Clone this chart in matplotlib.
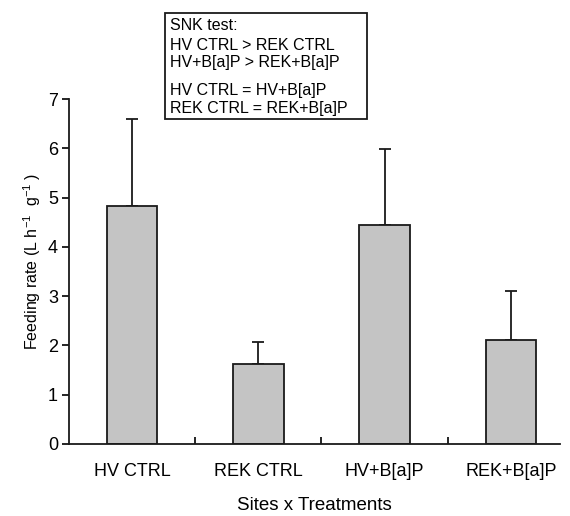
import numpy as np
import matplotlib
matplotlib.use('Agg')
import matplotlib.pyplot as plt

plt.rcParams['font.family'] = ['Liberation Sans', 'DejaVu Sans']
plt.rcParams['mathtext.fontset'] = 'custom'
plt.rcParams['mathtext.rm'] = 'Liberation Sans'

# data
groups = ['HV CTRL', 'REK CTRL', 'HV+B[a]P', 'REK+B[a]P']
means = [4.82, 1.63, 4.44, 2.11]
errs = [1.78, 0.44, 1.54, 0.99]
snk_lines = ['SNK test:', 'HV CTRL > REK CTRL', 'HV+B[a]P > REK+B[a]P',
             'HV CTRL = HV+B[a]P', 'REK CTRL = REK+B[a]P']

fig = plt.figure(figsize=(5.7, 5.16), dpi=100)
ax = fig.add_axes([69 / 570, 1 - 444 / 516, 491 / 570, 345 / 516])

x = np.arange(len(groups))
ax.bar(x, means, width=0.4, color='#c4c4c4', edgecolor='#1a1a1a', linewidth=1.3, zorder=2)
ax.errorbar(x, means, yerr=[np.zeros(len(errs)), errs], fmt='none', ecolor='#1a1a1a',
            elinewidth=1.3, capsize=4.5, capthick=1.3, zorder=1)

ax.set_xlim(-0.5, 3.39)
ax.set_ylim(0, 7)
ax.set_yticks(range(0, 8))
ax.set_xticks(x)
ax.set_xticklabels(groups, fontsize=13)
ax.set_xticks([0.5, 1.5, 2.5], minor=True)
ax.tick_params(axis='x', which='major', length=0, pad=14)
ax.tick_params(axis='x', which='minor', length=5, width=1.2, direction='in')
ax.tick_params(axis='y', labelsize=13, length=5, width=1.2, direction='out', pad=3)
for s in ['top', 'right']:
    ax.spines[s].set_visible(False)
for s in ['left', 'bottom']:
    ax.spines[s].set_linewidth(1.3)
    ax.spines[s].set_color('#1a1a1a')

ax.set_ylabel('Feeding rate (L h$^{\\mathregular{-1}}$  g$^{\\mathregular{-1}}$ )', fontsize=11.5)
ax.yaxis.set_label_coords(-0.052, 0.53)
ax.set_xlabel('Sites x Treatments', fontsize=13.5, va='center')
ax.xaxis.set_label_coords(0.5, -0.177)

# SNK box
fig.patches.append(plt.Rectangle((165 / 570, 1 - 119 / 516), 202 / 570, 106 / 516,
                                 transform=fig.transFigure, fill=False,
                                 edgecolor='#1a1a1a', linewidth=1.3))
ys = [25, 45, 63, 90, 108]
for t, yy in zip(snk_lines, ys):
    fig.text(170 / 570, 1 - yy / 516, t, fontsize=11.5, va='center', ha='left')

fig.savefig('out.png', dpi=100)
